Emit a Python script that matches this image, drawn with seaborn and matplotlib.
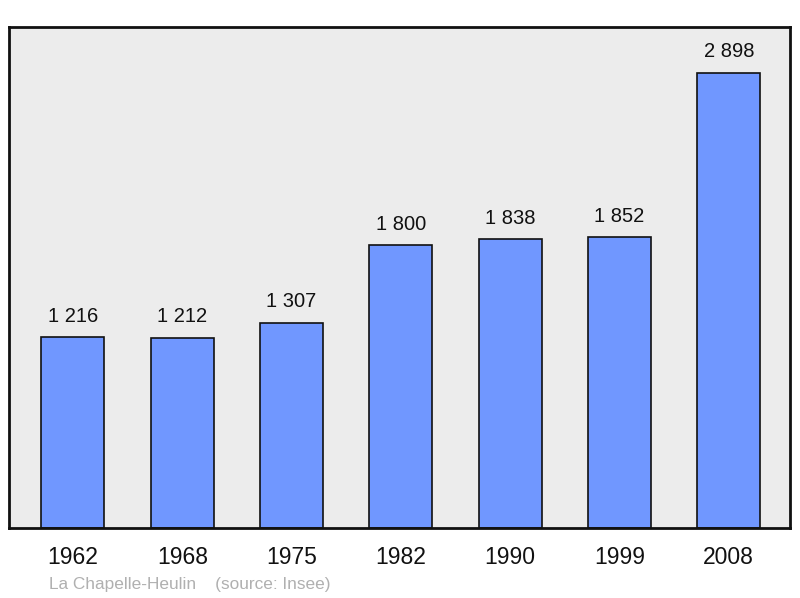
import matplotlib
matplotlib.use("Agg")
import matplotlib.pyplot as plt
import seaborn as sns
import pandas as pd

years = ["1962", "1968", "1975", "1982", "1990", "1999", "2008"]
population = [1216, 1212, 1307, 1800, 1838, 1852, 2898]
value_labels = ["1 216", "1 212", "1 307", "1 800", "1 838", "1 852", "2 898"]
caption = "La Chapelle-Heulin    (source: Insee)"

sns.set_theme(style="white")
plt.rcParams["font.family"] = ["Liberation Sans", "DejaVu Sans"]

df = pd.DataFrame({"year": years, "pop": population})

fig = plt.figure(figsize=(8, 5.98), dpi=100)
ax = fig.add_axes([9/800, 70/598, 781/800, 501/598])
ax.set_facecolor("#ececec")

sns.barplot(data=df, x="year", y="pop", order=years, color="#7097ff",
            saturation=1, width=0.576, edgecolor="#111111", linewidth=1.2, ax=ax)

for i, (v, lab) in enumerate(zip(population, value_labels)):
    ax.annotate(lab, (i, v), xytext=(0, 8), textcoords="offset points",
                ha="center", va="bottom", fontsize=14.5, color="#111111")

ax.set_xlim(-0.585, 6.56)
ax.set_ylim(0, max(population) * 1.1)
ax.set_yticks([])
ax.set_xlabel("")
ax.set_ylabel("")
ax.tick_params(axis="x", length=0, labelsize=16.5, pad=13, colors="#111111")
for s in ax.spines.values():
    s.set_visible(True)
    s.set_linewidth(2)
    s.set_color("#111111")

fig.text(49/800, 1 - 584/598, caption, fontsize=12.4, color="#b0b0b0",
         ha="left", va="center")

fig.savefig("out.png", dpi=100)
